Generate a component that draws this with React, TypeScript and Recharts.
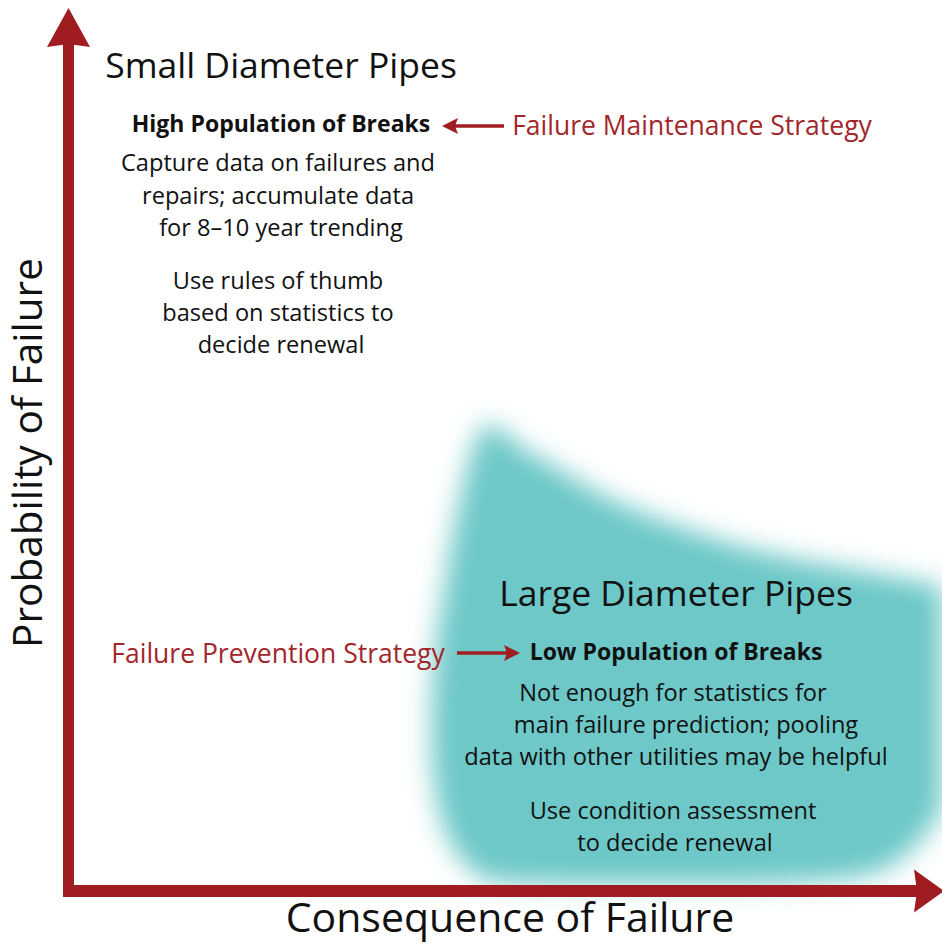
import React from 'react';
import { ComposedChart, Area, XAxis, YAxis, ReferenceLine, ReferenceDot } from 'recharts';

// Diagram space: x runs left to right (consequence), y runs top to bottom.
const W = 942;
const H = 949;

// outline of the "large diameter pipes" zone, as [top, bottom] per x column
const zoneX = [432, 437, 443, 452, 460, 470, 480, 488, 500, 520, 560, 600, 650, 700, 750, 800, 850, 890, 915, 935, 942];
const zoneTop = [700, 640, 600, 540, 500, 458, 432, 424, 430, 446, 470, 494, 516, 534, 549, 560, 569, 576, 581, 585, 587];
const zoneBottom = [760, 800, 825, 845, 858, 868, 876, 880, 882, 883, 884, 884, 884, 884, 884, 882, 878, 866, 846, 820, 810];

// arrows: main axes and the two strategy pointers
const axisArrows = [
  { x1: 68.5, y1: 897, x2: 68.5, y2: 8 },
  { x1: 63, y1: 891, x2: 944, y2: 891 },
];
const pointerArrows = [
  { x1: 504, y1: 126, x2: 442, y2: 126 },
  { x1: 457, y1: 653, x2: 520, y2: 653 },
];

// labels
const titles = [
  { x: 281, y: 78, text: 'Small Diameter Pipes' },
  { x: 676, y: 606, text: 'Large Diameter Pipes' },
];
const headings = [
  { x: 281, y: 132, text: 'High Population of Breaks' },
  { x: 676, y: 660, text: 'Low Population of Breaks' },
];
const strategies = [
  { x: 692, y: 135, text: 'Failure Maintenance Strategy' },
  { x: 278, y: 663, text: 'Failure Prevention Strategy' },
];
const notes = [
  { x: 278, y: 171, text: 'Capture data on failures and' },
  { x: 278, y: 204, text: 'repairs; accumulate data' },
  { x: 281, y: 236, text: 'for 8\u201310 year trending' },
  { x: 278, y: 289, text: 'Use rules of thumb' },
  { x: 278, y: 321, text: 'based on statistics to' },
  { x: 281, y: 353, text: 'decide renewal' },
  { x: 673, y: 701, text: 'Not enough for statistics for' },
  { x: 686, y: 733, text: 'main failure prediction; pooling' },
  { x: 676, y: 765, text: 'data with other utilities may be helpful' },
  { x: 673, y: 819, text: 'Use condition assessment' },
  { x: 675, y: 851, text: 'to decide renewal' },
];
const axisTitles = [
  { x: 510, y: 932, text: 'Consequence of Failure', rotate: 0 },
  { x: 42, y: 453, text: 'Probability of Failure', rotate: -90 },
];

const zoneData = zoneX.map((x, i) => ({ x, band: [zoneTop[i], zoneBottom[i]] }));

const RED = '#9f1c21';
const TEAL = '#6dc8c7';
const FONT = '"Open Sans", "Noto Sans", sans-serif';

const arrowShape = (shaft: number, headLen: number, headHalf: number) => (props: any) => {
  const { x1, y1, x2, y2 } = props;
  const dx = x2 - x1;
  const dy = y2 - y1;
  const len = Math.sqrt(dx * dx + dy * dy);
  const ux = dx / len;
  const uy = dy / len;
  const bx = x2 - ux * headLen;
  const by = y2 - uy * headLen;
  const px = -uy;
  const py = ux;
  const head = `M${x2},${y2} L${bx + px * headHalf},${by + py * headHalf} L${bx + ux * 3},${by + uy * 3} L${bx - px * headHalf},${by - py * headHalf} Z`;
  return (
    <g>
      <line x1={x1} y1={y1} x2={bx + ux * 4} y2={by + uy * 4} stroke={RED} strokeWidth={shaft} />
      <path d={head} fill={RED} />
    </g>
  );
};

const textShape = (size: number, weight: number, color: string, rotate = 0) => (text: string) => (props: any) => {
  const { cx, cy } = props;
  return (
    <text
      x={cx}
      y={cy}
      textAnchor="middle"
      fontFamily={FONT}
      fontSize={size}
      fontWeight={weight}
      fill={color}
      transform={rotate ? `rotate(${rotate}, ${cx}, ${cy})` : undefined}
    >
      {text}
    </text>
  );
};

const titleText = textShape(35.5, 400, '#111');
const headingText = textShape(23, 700, '#111');
const strategyText = textShape(26.5, 400, '#a3262b');
const noteText = textShape(23.6, 400, '#111');

export default function App() {
  return (
    <div style={{ position: 'absolute', left: 0, top: 0, background: '#fff' }}>
      <ComposedChart width={W} height={H} data={zoneData} margin={{ top: 0, right: 0, bottom: 0, left: 0 }}>
        <defs>
          <filter id="zoneBlur" x="-20%" y="-20%" width="140%" height="140%">
            <feGaussianBlur stdDeviation="13" />
          </filter>
        </defs>
        <XAxis dataKey="x" type="number" domain={[0, W]} hide />
        <YAxis type="number" domain={[0, H]} reversed hide />
        <Area
          type="monotone"
          dataKey="band"
          stroke="none"
          fill={TEAL}
          fillOpacity={1}
          filter="url(#zoneBlur)"
          isAnimationActive={false}
          dot={false}
          activeDot={false}
        />
        {axisArrows.map((a, i) => (
          <ReferenceLine
            key={`ax${i}`}
            segment={[{ x: a.x1, y: a.y1 }, { x: a.x2, y: a.y2 }]}
            ifOverflow="visible"
            shape={arrowShape(i === 0 ? 11 : 12, i === 0 ? 39 : 30, 21.5)}
          />
        ))}
        {pointerArrows.map((a, i) => (
          <ReferenceLine
            key={`pt${i}`}
            segment={[{ x: a.x1, y: a.y1 }, { x: a.x2, y: a.y2 }]}
            ifOverflow="visible"
            shape={arrowShape(3.5, 16, 8)}
          />
        ))}
        {titles.map((t, i) => (
          <ReferenceDot key={`ti${i}`} x={t.x} y={t.y} r={0} ifOverflow="visible" shape={titleText(t.text)} />
        ))}
        {headings.map((t, i) => (
          <ReferenceDot key={`hd${i}`} x={t.x} y={t.y} r={0} ifOverflow="visible" shape={headingText(t.text)} />
        ))}
        {strategies.map((t, i) => (
          <ReferenceDot key={`st${i}`} x={t.x} y={t.y} r={0} ifOverflow="visible" shape={strategyText(t.text)} />
        ))}
        {notes.map((t, i) => (
          <ReferenceDot key={`nt${i}`} x={t.x} y={t.y} r={0} ifOverflow="visible" shape={noteText(t.text)} />
        ))}
        {axisTitles.map((t, i) => (
          <ReferenceDot
            key={`at${i}`}
            x={t.x}
            y={t.y}
            r={0}
            ifOverflow="visible"
            shape={textShape(i === 0 ? 41 : 40.5, 400, '#111', t.rotate)(t.text)}
          />
        ))}
      </ComposedChart>
    </div>
  );
}
